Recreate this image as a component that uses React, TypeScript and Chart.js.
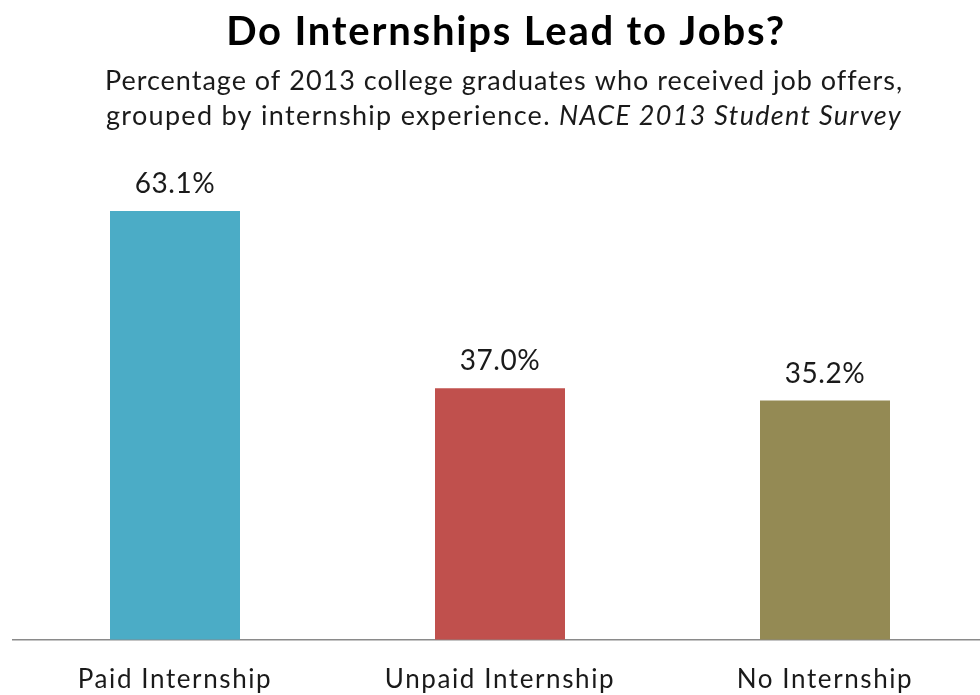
import React, { useEffect, useRef } from "react";
import { Chart, registerables } from "chart.js";

Chart.register(...registerables);

const categories: string[] = ["Paid Internship", "Unpaid Internship", "No Internship"];
const offerRates: number[] = [63.1, 37.0, 35.2];
const barColors: string[] = ["#4BACC6", "#C0504D", "#948A54"];
const titleText = "Do Internships Lead to Jobs?";
const subtitleLine1 = "Percentage of 2013 college graduates who received job offers,";
const subtitleLine2Plain = "grouped by internship experience. ";
const subtitleLine2Italic = "NACE 2013 Student Survey";

const FONT = "Lato, 'Open Sans', sans-serif";

const spacingPlugin = {
  id: "spacing",
  beforeDraw(chart: any) {
    (chart.ctx as any).letterSpacing = "1.6px";
  },
  afterDraw(chart: any) {
    (chart.ctx as any).letterSpacing = "0px";
  },
};

const headerPlugin = {
  id: "header",
  afterDraw(chart: any) {
    const ctx = chart.ctx as any;
    ctx.save();
    ctx.textBaseline = "alphabetic";
    ctx.textAlign = "center";
    ctx.fillStyle = "#000000";
    ctx.letterSpacing = "1.8px";
    ctx.font = `bold 40px ${FONT}`;
    ctx.fillText(titleText, 506, 45);

    const cx = 504;
    ctx.fillStyle = "#1a1a1a";
    ctx.letterSpacing = "1px";
    ctx.font = `27px ${FONT}`;
    ctx.fillText(subtitleLine1, cx, 90);

    ctx.textAlign = "left";
    ctx.letterSpacing = "1.3px";
    ctx.font = `27px ${FONT}`;
    const w1 = ctx.measureText(subtitleLine2Plain).width;
    ctx.font = `italic 27px ${FONT}`;
    const w2 = ctx.measureText(subtitleLine2Italic).width;
    const start = cx - (w1 + w2) / 2;
    ctx.font = `27px ${FONT}`;
    ctx.fillText(subtitleLine2Plain, start, 125);
    ctx.font = `italic 27px ${FONT}`;
    ctx.fillText(subtitleLine2Italic, start + w1, 125);
    ctx.restore();
  },
};

const valueLabelPlugin = {
  id: "valueLabels",
  afterDatasetsDraw(chart: any) {
    const ctx = chart.ctx as any;
    const meta = chart.getDatasetMeta(0);
    ctx.save();
    ctx.letterSpacing = "0.5px";
    ctx.font = `28px ${FONT}`;
    ctx.fillStyle = "#1a1a1a";
    ctx.textAlign = "center";
    ctx.textBaseline = "alphabetic";
    meta.data.forEach((bar: any, i: number) => {
      const v = chart.data.datasets[0].data[i] as number;
      ctx.fillText(v.toFixed(1) + "%", bar.x, bar.y - 18);
    });
    ctx.restore();
  },
};

export default function App() {
  const canvasRef = useRef<HTMLCanvasElement | null>(null);

  useEffect(() => {
    if (!canvasRef.current) return;
    const chart = new Chart(canvasRef.current, {
      type: "bar",
      data: {
        labels: categories,
        datasets: [
          {
            data: offerRates,
            backgroundColor: barColors,
            borderWidth: 0,
            barPercentage: 0.4,
            categoryPercentage: 1,
          },
        ],
      },
      options: {
        animation: false,
        responsive: true,
        maintainAspectRatio: false,
        layout: { padding: { top: 164, left: 12.5, right: 12.5, bottom: 3 } },
        plugins: {
          legend: { display: false },
          title: { display: false },
          tooltip: { enabled: false },
        },
        scales: {
          x: {
            grid: { display: false, drawTicks: false },
            border: { display: true, color: "#8a8a8a", width: 1.5 },
            ticks: {
              color: "#1a1a1a",
              font: { family: FONT, size: 26 },
              padding: 24,
            },
          },
          y: { display: false, min: 0, max: 70 },
        },
      },
      plugins: [spacingPlugin, headerPlugin, valueLabelPlugin],
    });
    return () => chart.destroy();
  }, []);

  return (
    <div style={{ position: "absolute", left: 0, top: 0, width: 980, height: 695, overflow: "hidden", background: "#fff" }}>
      <div style={{ position: "relative", width: 1000, height: 722 }}>
        <canvas ref={canvasRef} />
      </div>
    </div>
  );
}
